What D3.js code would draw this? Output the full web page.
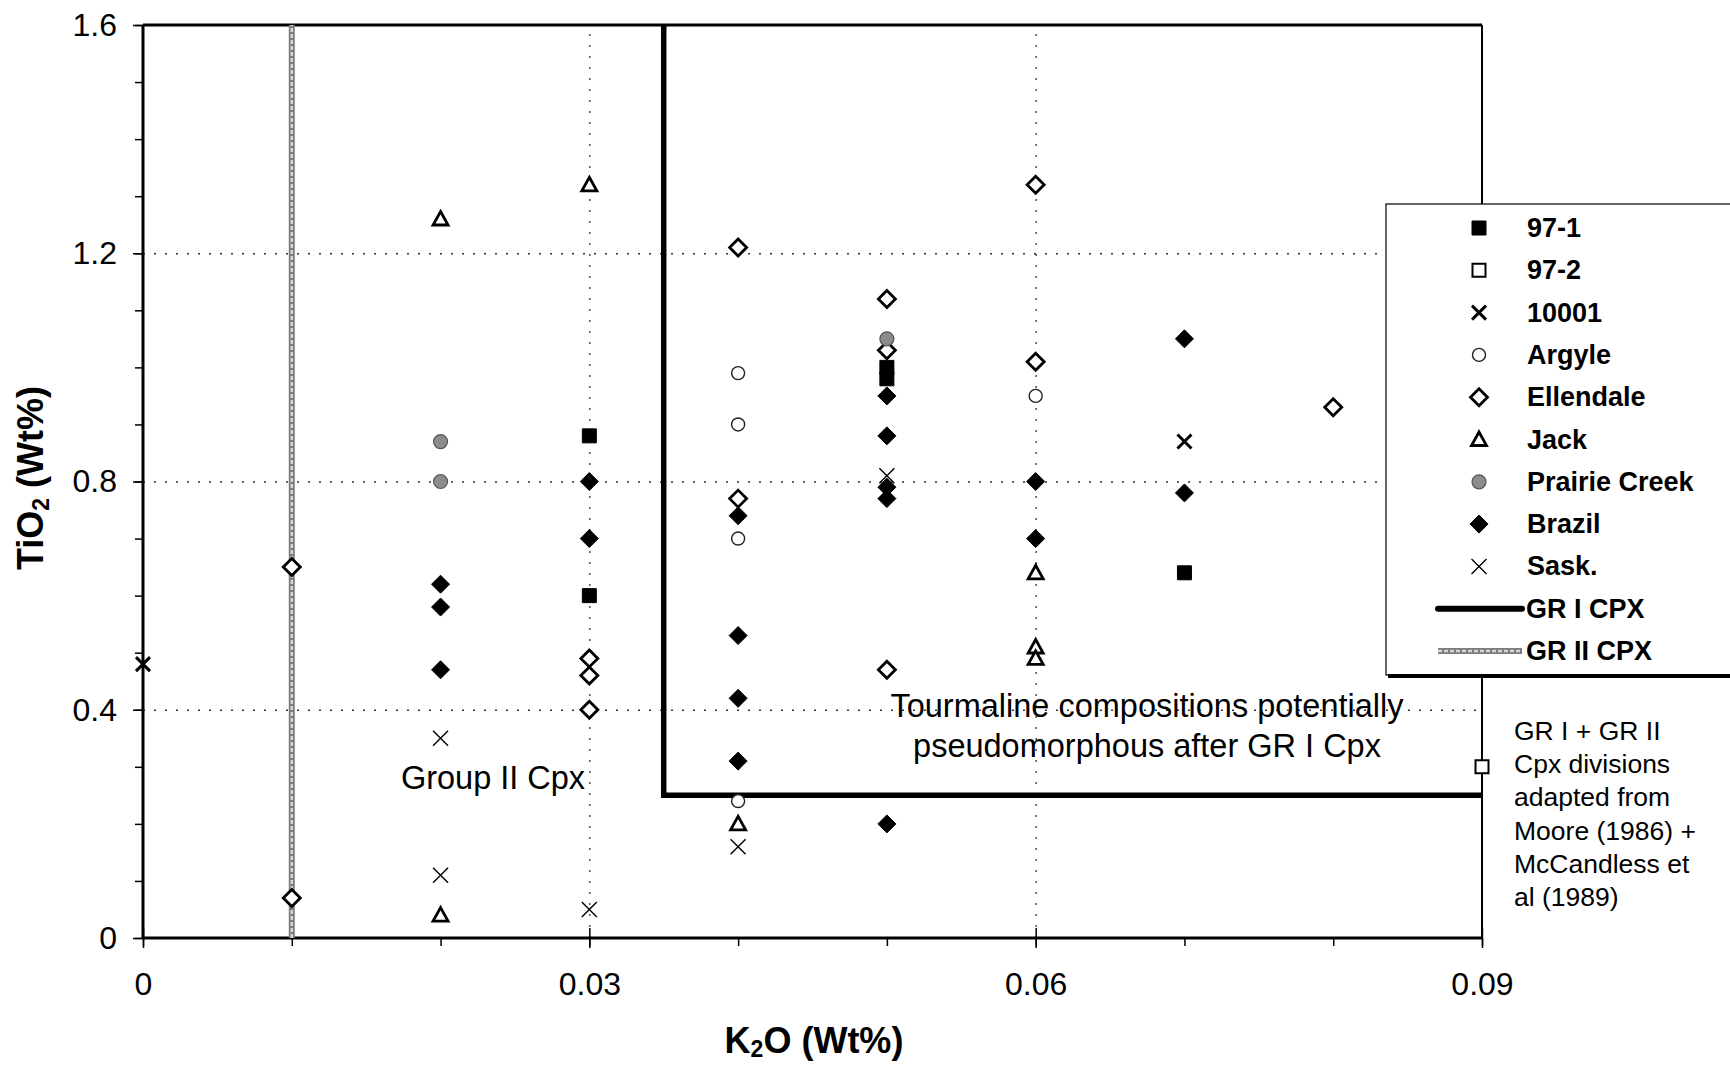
<!DOCTYPE html>
<html>
<head>
    <meta charset="utf-8">
    <title>TiO2 vs K2O</title>
    <script src="https://cdn.jsdelivr.net/npm/d3@7"></script>
    <style>
        html, body {
            margin: 0;
            background-color: #fff;
        }
        svg {
            font-family: "Liberation Sans", Arial, Helvetica, sans-serif;
            background-color: #fff;
        }
        .axis path.domain { display: none; }
        .axis line { stroke: #000; stroke-width: 1.5; }
        .axis text { font-size: 32px; fill: #000; }
        .grid line { stroke: #333; stroke-width: 1.3; stroke-dasharray: 2,9; }
        .grid path.domain { display: none; }
        .note { font-size: 32.5px; fill: #000; }
        .note.small { font-size: 26.5px; }
        .title { font-size: 36px; font-weight: bold; }
        .legend text { font-size: 27px; font-weight: bold; dominant-baseline: central; }
    </style>
</head>
<body>
<svg></svg>
<script>
    // K2O (wt%), TiO2 (wt%) pairs
    var s97_1     = [[0.03,0.88],[0.03,0.60],[0.05,1.00],[0.05,0.98],[0.07,0.64]];
    var s97_2     = [[0.09,0.30]];
    var s10001    = [[0,0.48],[0.07,0.87]];
    var argyle    = [[0.04,0.99],[0.04,0.90],[0.04,0.70],[0.04,0.24],[0.06,0.95]];
    var ellendale = [[0.01,0.65],[0.01,0.07],[0.03,0.49],[0.03,0.46],[0.03,0.40],
                     [0.04,1.21],[0.04,0.77],[0.05,1.12],[0.05,1.03],[0.05,0.47],
                     [0.06,1.32],[0.06,1.01],[0.08,0.93]];
    var jack      = [[0.02,1.26],[0.02,0.04],[0.03,1.32],[0.04,0.20],[0.06,0.64],
                     [0.06,0.51],[0.06,0.49]];
    var prairie   = [[0.02,0.87],[0.02,0.80],[0.05,1.05]];
    var brazil    = [[0.02,0.62],[0.02,0.58],[0.02,0.47],[0.03,0.80],[0.03,0.70],
                     [0.04,0.74],[0.04,0.53],[0.04,0.42],[0.04,0.31],[0.05,0.95],
                     [0.05,0.88],[0.05,0.79],[0.05,0.77],[0.05,0.20],[0.06,0.80],
                     [0.06,0.70],[0.07,1.05],[0.07,0.78]];
    var sask      = [[0.02,0.35],[0.02,0.11],[0.03,0.05],[0.04,0.16],[0.05,0.81]];

    // group division lines
    var grI  = [[0.035,1.6],[0.035,0.25],[0.09,0.25]];
    var grII = [[0.01,0],[0.01,1.6]];

    var xTicks = [0, 0.03, 0.06, 0.09],
        yTicks = [0, 0.4, 0.8, 1.2, 1.6],
        xMinor = d3.range(0, 0.0901, 0.01),
        yMinor = d3.range(0, 1.601, 0.1);

    (function () {
        var W = 1730, H = 1065,
            left = 143, right = 1482, top = 25, bottom = 938;

        var svg = d3.select('svg').attr('width', W).attr('height', H);

        var x = d3.scaleLinear().domain([0, 0.09]).range([left, right]),
            y = d3.scaleLinear().domain([0, 1.6]).range([bottom, top]);

        function fmt(d) { return String(+d.toFixed(2)); }

        // dotted grid
        svg.append('g').attr('class', 'grid')
            .attr('transform', 'translate(0,' + bottom + ')')
            .call(d3.axisBottom(x).tickValues([0.03, 0.06])
                .tickSize(-(bottom - top)).tickFormat(''));
        svg.append('g').attr('class', 'grid')
            .attr('transform', 'translate(' + left + ',0)')
            .call(d3.axisLeft(y).tickValues([0.4, 0.8, 1.2])
                .tickSize(-(right - left)).tickFormat(''));

        // minor ticks
        svg.append('g').attr('class', 'axis')
            .attr('transform', 'translate(' + left + ',0)')
            .call(d3.axisLeft(y).tickValues(yMinor).tickSize(8).tickFormat(''));
        svg.append('g').attr('class', 'axis')
            .attr('transform', 'translate(0,' + bottom + ')')
            .call(d3.axisBottom(x).tickValues(xMinor).tickSize(8).tickFormat(''));

        // major ticks + labels
        svg.append('g').attr('class', 'axis')
            .attr('transform', 'translate(' + left + ',0)')
            .call(d3.axisLeft(y).tickValues(yTicks).tickSize(10).tickPadding(16).tickFormat(fmt));
        var xa = svg.append('g').attr('class', 'axis')
            .attr('transform', 'translate(0,' + bottom + ')')
            .call(d3.axisBottom(x).tickValues(xTicks).tickSize(10).tickPadding(24).tickFormat(fmt));
        xa.selectAll('.tick').append('line').attr('y2', -10);

        // frame
        var frame = svg.append('g').attr('stroke', '#000').attr('fill', 'none');
        frame.append('line').attr('x1', left).attr('x2', left).attr('y1', top).attr('y2', bottom).attr('stroke-width', 3);
        frame.append('line').attr('x1', left).attr('x2', right).attr('y1', bottom).attr('y2', bottom).attr('stroke-width', 3);
        frame.append('line').attr('x1', left).attr('x2', right).attr('y1', top).attr('y2', top).attr('stroke-width', 3);
        frame.append('line').attr('x1', right).attr('x2', right).attr('y1', top).attr('y2', bottom).attr('stroke-width', 2);

        var line = d3.line().x(function (d) { return x(d[0]); }).y(function (d) { return y(d[1]); });

        // GR II (grey hatched) and GR I (thick black)
        function grey(g, d) {
            g.append('path').attr('d', d).attr('fill', 'none')
                .attr('stroke', '#7d7d7d').attr('stroke-width', 6);
            g.append('path').attr('d', d).attr('fill', 'none')
                .attr('stroke', '#d6d6d6').attr('stroke-width', 2.5).attr('stroke-dasharray', '4,2');
        }
        grey(svg.append('g'), line(grII));
        svg.append('path').attr('d', line(grI)).attr('fill', 'none')
            .attr('stroke', '#000').attr('stroke-width', 5.5);

        // marker paths centred on 0,0
        var shapes = {
            square: function (r) { return 'M' + -r + ',' + -r + 'H' + r + 'V' + r + 'H' + -r + 'Z'; },
            diamond: function (r) { return 'M0,' + -r + 'L' + r + ',0L0,' + r + 'L' + -r + ',0Z'; },
            triangle: function (r) { return 'M0,' + -r + 'L' + r + ',' + (r * 0.8) + 'L' + -r + ',' + (r * 0.8) + 'Z'; },
            circle: function (r) { return d3.symbol(d3.symbolCircle, Math.PI * r * r)(); },
            cross: function (r) { return 'M' + -r + ',' + -r + 'L' + r + ',' + r + 'M' + r + ',' + -r + 'L' + -r + ',' + r; }
        };

        var series = [
            { name: '97-1',          data: s97_1,     shape: 'square',   r: 7,   fill: '#000',    stroke: '#000', sw: 1 },
            { name: '97-2',          data: s97_2,     shape: 'square',   r: 6.5, fill: '#fff',    stroke: '#000', sw: 2 },
            { name: '10001',         data: s10001,    shape: 'cross',    r: 7,   fill: 'none',    stroke: '#000', sw: 3 },
            { name: 'Argyle',        data: argyle,    shape: 'circle',   r: 6.5, fill: '#fff',    stroke: '#222', sw: 1.4 },
            { name: 'Ellendale',     data: ellendale, shape: 'diamond',  r: 8.5, fill: '#fff',    stroke: '#000', sw: 2.8 },
            { name: 'Jack',          data: jack,      shape: 'triangle', r: 7.5, fill: '#fff',    stroke: '#000', sw: 2.8 },
            { name: 'Prairie Creek', data: prairie,   shape: 'circle',   r: 7,   fill: '#8c8c8c', stroke: '#555', sw: 1.2 },
            { name: 'Brazil',        data: brazil,    shape: 'diamond',  r: 9,   fill: '#000',    stroke: '#000', sw: 1 },
            { name: 'Sask.',         data: sask,      shape: 'cross',    r: 7.5, fill: 'none',    stroke: '#000', sw: 1.4 }
        ];

        function mark(sel, s) {
            sel.attr('d', shapes[s.shape](s.r))
                .attr('fill', s.fill)
                .attr('stroke', s.stroke)
                .attr('stroke-width', s.sw);
        }

        series.forEach(function (s) {
            svg.append('g').selectAll('path').data(s.data).enter().append('path')
                .attr('transform', function (d) { return 'translate(' + x(d[0]) + ',' + y(d[1]) + ')'; })
                .call(mark, s);
        });

        // annotations
        svg.append('text').attr('class', 'note').attr('x', 493).attr('y', 789)
            .attr('text-anchor', 'middle').text('Group II Cpx');
        svg.append('text').attr('class', 'note').attr('x', 1147).attr('y', 717)
            .attr('text-anchor', 'middle').text('Tourmaline compositions potentially');
        svg.append('text').attr('class', 'note').attr('x', 1147).attr('y', 757)
            .attr('text-anchor', 'middle').text('pseudomorphous after GR I Cpx');

        var src = ['GR I + GR II', 'Cpx divisions', 'adapted from', 'Moore (1986) +', 'McCandless et', 'al (1989)'];
        svg.append('g').selectAll('text').data(src).enter().append('text')
            .attr('class', 'note small')
            .attr('x', 1514)
            .attr('y', function (d, i) { return 740 + i * 33.2; })
            .text(function (d) { return d; });

        // axis titles
        var xt = svg.append('text').attr('class', 'title').attr('x', 814).attr('y', 1053)
            .attr('text-anchor', 'middle');
        xt.append('tspan').text('K');
        xt.append('tspan').attr('font-size', '23px').attr('dy', 4).text('2');
        xt.append('tspan').attr('dy', -4).text('O (Wt%)');

        var yt = svg.append('text').attr('class', 'title')
            .attr('transform', 'translate(43,478)rotate(-90)')
            .attr('text-anchor', 'middle');
        yt.append('tspan').text('TiO');
        yt.append('tspan').attr('font-size', '23px').attr('dy', 6).text('2');
        yt.append('tspan').attr('dy', -6).text(' (Wt%)');

        // legend
        var lg = svg.append('g').attr('class', 'legend');
        lg.append('rect').attr('x', 1386).attr('y', 204).attr('width', 400).attr('height', 471)
            .attr('fill', '#fff').attr('stroke', '#000').attr('stroke-width', 1.2);
        lg.append('line').attr('x1', 1388).attr('x2', W).attr('y1', 676).attr('y2', 676)
            .attr('stroke', '#000').attr('stroke-width', 4);

        var rowY = function (i) { return 228 + i * 42.3; };
        series.forEach(function (s, i) {
            lg.append('path').attr('transform', 'translate(1479,' + rowY(i) + ')').call(mark, s);
            lg.append('text').attr('x', 1527).attr('y', rowY(i)).text(s.name);
        });
        lg.append('line').attr('x1', 1438).attr('x2', 1522).attr('y1', rowY(9)).attr('y2', rowY(9))
            .attr('stroke', '#000').attr('stroke-width', 6).attr('stroke-linecap', 'round');
        lg.append('text').attr('x', 1526).attr('y', rowY(9)).text('GR I CPX');
        grey(lg.append('g'), 'M1438,' + rowY(10) + 'H1522');
        lg.append('text').attr('x', 1526).attr('y', rowY(10)).text('GR II CPX');
    })();
</script>
</body>
</html>
